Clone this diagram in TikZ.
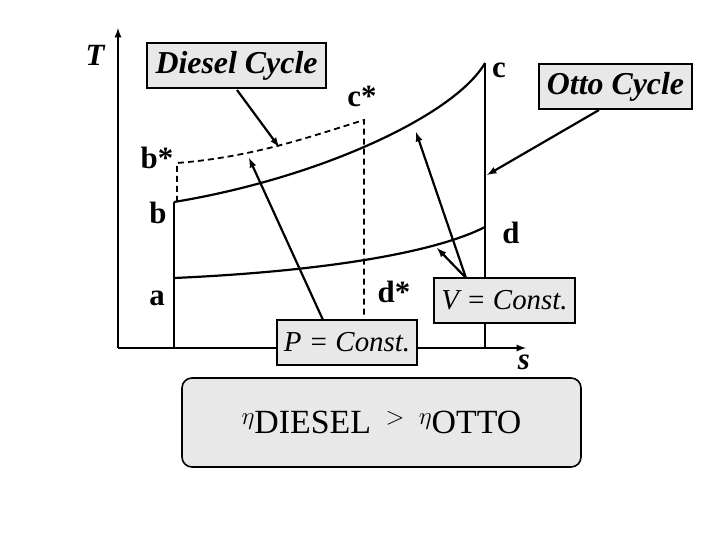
\documentclass[tikz,border=0pt]{standalone}
\usepackage{fontspec}
\setmainfont{Liberation Serif}
\begin{document}
\begin{tikzpicture}[x=1bp,y=-1bp,
 lbl/.style={font=\fontsize{31}{31}\selectfont\bfseries},
 box/.style={draw,line width=1.3bp,fill=gray!18,font=\fontsize{32}{32}\selectfont\bfseries\itshape,inner sep=0pt},
 ln/.style={line width=2.2bp},
 dsh/.style={line width=1.8bp,dash pattern=on 6bp off 4bp},
 arr/.style={line width=2.2bp,-latex}]
\useasboundingbox (0,0) rectangle (720,540);
\coordinate (O) at (118,348);
\coordinate (ytop) at (118,28);
\coordinate (xend) at (526,348);
\draw[ln,-latex] (O) -- (ytop);
\draw[ln,-latex] (O) -- (xend);
\coordinate (a) at (174,278); \coordinate (b) at (174,202);
\coordinate (c) at (485,63); \coordinate (d) at (485,227);
\coordinate (bs) at (177,163); \coordinate (cs) at (364,120);
\coordinate (ab) at (174,348); \coordinate (db) at (485,348);
\coordinate (csb) at (364,318); \coordinate (bsb) at (177,202);
\draw[ln] (ab) -- (b);
\draw[ln] (db) -- (c);
\draw[ln] (b) .. controls (320,178) and (455,115) .. (c);
\draw[ln] (a) .. controls (310,272) and (430,255) .. (d);
\draw[dsh] (bsb) -- (bs) .. controls (255,157) and (315,135) .. (cs) -- (csb);
\node[lbl] (T) at (95,55) {\itshape T};
\node[lbl] (lc) at (499,70) {c};
\node[lbl] (lcs) at (362,96) {c*};
\node[lbl] (lbs) at (157,158) {b*};
\node[lbl] (lb) at (158,213) {b};
\node[lbl] (ld) at (511,233) {d};
\node[lbl] (la) at (157,298) {a};
\node[lbl] (lds) at (394,292) {d*};
\node[lbl] (ls) at (524,362) {\itshape s};
\node[box,minimum width=179bp,minimum height=45bp] (diesel) at (236.5,65.5) {Diesel Cycle};
\node[box,minimum width=153bp,minimum height=45bp] (otto) at (615.5,86.5) {Otto Cycle};
\node[box,minimum width=141bp,minimum height=45bp,font=\fontsize{29}{29}\selectfont\itshape] (V) at (504.5,300.5) {V = Const.};
\node[box,minimum width=140bp,minimum height=45bp,font=\fontsize{29}{29}\selectfont\itshape] (P) at (347,342.5) {P = Const.};
\coordinate (ds) at (237,90); \coordinate (dt) at (279,147);
\coordinate (os) at (599,110); \coordinate (ot) at (487,175);
\coordinate (ps) at (323,320); \coordinate (pt) at (249,158);
\coordinate (vs) at (466,278); \coordinate (vt1) at (416,132); \coordinate (vt2) at (437,248);
\draw[arr] (ds) -- (dt);
\draw[arr] (os) -- (ot);
\draw[arr] (ps) -- (pt);
\draw[arr] (vs) -- (vt1);
\draw[arr] (vs) -- (vt2);
\node[draw,line width=1.6bp,rounded corners=10bp,fill=gray!18,minimum width=399bp,minimum height=89bp,font=\fontsize{58}{58}\selectfont] (eta) at (381.5,422.5) {$\eta$\raisebox{-0.35ex}{\fontsize{34}{34}\selectfont DIESEL} $>$ $\eta$\raisebox{-0.35ex}{\fontsize{34}{34}\selectfont OTTO}};
\end{tikzpicture}
\end{document}
